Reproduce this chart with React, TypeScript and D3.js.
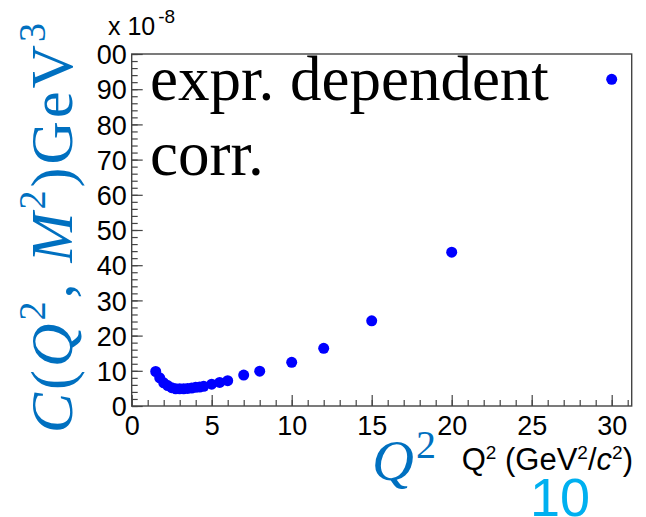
import { useEffect, useRef } from 'react';
import * as d3 from 'd3';

// Q^2 values (GeV^2/c^2) and correction values (x 1e-8)
const q2Values = [1.5, 1.75, 2, 2.25, 2.5, 2.75, 3, 3.25, 3.5, 3.75, 4, 4.25, 4.5, 5, 5.5, 6, 7, 8, 10, 12, 15, 20, 30];
const corrValues = [9.8, 8.0, 6.6, 5.8, 5.2, 4.9, 4.9, 4.9, 5.0, 5.1, 5.3, 5.4, 5.6, 6.2, 6.7, 7.2, 8.8, 9.9, 12.4, 16.4, 24.2, 43.7, 92.8];

const xMajorTicks = [0, 5, 10, 15, 20, 25, 30];
const xMinorTicks = d3.range(0, 32, 1);
const yMajorTicks = [0, 10, 20, 30, 40, 50, 60, 70, 80, 90, 100];
const yMinorTicks = d3.range(0, 101, 2);

const W = 646;
const H = 517;

export default function App() {
  const svgRef = useRef<SVGSVGElement>(null);

  useEffect(() => {
    const svg = d3.select(svgRef.current);
    svg.selectAll('*').remove();

    const frame = { left: 131.7, right: 631.7, top: 54, bottom: 406 };

    const x = d3.scaleLinear().domain([0, 31.25]).range([frame.left, frame.right]);
    const y = d3.scaleLinear().domain([0, 100]).range([frame.bottom, frame.top]);

    svg.append('rect').attr('width', W).attr('height', H).attr('fill', '#fff');

    const axisColor = '#444';
    const sans = '"Liberation Sans", Arial, sans-serif';

    // x ticks (inward)
    const gx = svg.append('g').attr('transform', `translate(0,${frame.bottom})`);
    gx.call(d3.axisBottom(x).tickValues(xMinorTicks).tickSize(-6).tickFormat(() => ''))
      .call(g => g.select('.domain').remove());
    const gx2 = svg.append('g').attr('transform', `translate(0,${frame.bottom})`);
    gx2.call(d3.axisBottom(x).tickValues(xMajorTicks).tickSize(-11).tickPadding(0).tickFormat(d3.format('d')))
      .call(g => g.select('.domain').remove());
    gx2.selectAll('text')
      .attr('y', 29)
      .attr('dy', 0)
      .style('font-family', sans)
      .style('font-size', '27px')
      .attr('fill', '#000');

    // y ticks (inward)
    const gy = svg.append('g').attr('transform', `translate(${frame.left},0)`);
    gy.call(d3.axisLeft(y).tickValues(yMinorTicks).tickSize(-6).tickFormat(() => ''))
      .call(g => g.select('.domain').remove());
    const gy2 = svg.append('g').attr('transform', `translate(${frame.left},0)`);
    gy2.call(d3.axisLeft(y).tickValues(yMajorTicks).tickSize(-11).tickFormat(d3.format('d')))
      .call(g => g.select('.domain').remove());
    gy2.selectAll('text')
      .attr('x', -5)
      .attr('dy', '0.36em')
      .style('font-family', sans)
      .style('font-size', '27px')
      .attr('fill', '#000');
    svg.selectAll('.tick line').attr('stroke', axisColor).attr('stroke-width', 1.2);

    // frame
    svg.append('rect')
      .attr('x', frame.left)
      .attr('y', frame.top)
      .attr('width', frame.right - frame.left)
      .attr('height', frame.bottom - frame.top)
      .attr('fill', 'none')
      .attr('stroke', axisColor)
      .attr('stroke-width', 1.4);

    // exponent label
    const expo = svg.append('text')
      .attr('x', 108)
      .attr('y', 35)
      .style('font-family', sans)
      .style('font-size', '25px')
      .attr('fill', '#000');
    expo.append('tspan').text('x 10');
    expo.append('tspan').attr('dy', -12).attr('dx', 3).style('font-size', '19px').text('-8');

    // axis title
    const xt = svg.append('text')
      .attr('x', 461.7)
      .attr('y', 470)
      .style('font-family', sans)
      .style('font-size', '31px')
      .attr('fill', '#000');
    xt.append('tspan').text('Q');
    xt.append('tspan').attr('dy', -11).style('font-size', '19px').text('2');
    xt.append('tspan').attr('dy', 11).text(' (GeV');
    xt.append('tspan').attr('dy', -11).style('font-size', '19px').text('2');
    xt.append('tspan').attr('dy', 11).text('/');
    xt.append('tspan').style('font-style', 'italic').text('c');
    xt.append('tspan').attr('dy', -11).style('font-size', '19px').text('2');
    xt.append('tspan').attr('dy', 11).text(')');

    // data points
    const pts = q2Values.map((q, i) => ({ q, c: corrValues[i] }));
    svg.append('g')
      .selectAll('circle')
      .data(pts)
      .enter().append('circle')
      .attr('cx', d => x(d.q))
      .attr('cy', d => y(d.c))
      .attr('r', 5.5)
      .attr('fill', '#0000ff');

    // in-pad label
    const serif = '"Liberation Serif", "Times New Roman", serif';
    svg.append('text')
      .attr('x', 150)
      .attr('y', 100)
      .style('font-family', serif)
      .style('font-size', '63px')
      .attr('fill', '#000')
      .text('expr. dependent');
    svg.append('text')
      .attr('x', 150)
      .attr('y', 175)
      .style('font-family', serif)
      .style('font-size', '63px')
      .attr('fill', '#000')
      .text('corr.');

    // pasted y title (white box covers the leading "1" of 100)
    const blue = '#0070c0';
    svg.append('rect').attr('x', 0).attr('y', 40).attr('width', 97).attr('height', 405).attr('fill', '#fff');
    const yt = svg.append('text')
      .attr('transform', 'translate(72,433) rotate(-90)')
      .attr('textLength', 410)
      .attr('lengthAdjust', 'spacing')
      .style('font-family', serif)
      .style('font-size', '60px')
      .attr('fill', blue);
    yt.append('tspan').style('font-style', 'italic').text('C');
    yt.append('tspan').text('(');
    yt.append('tspan').style('font-style', 'italic').text('Q');
    yt.append('tspan').attr('dy', -27).style('font-size', '38px').text('2');
    yt.append('tspan').attr('dy', 27).text(', ');
    yt.append('tspan').style('font-style', 'italic').text('M');
    yt.append('tspan').attr('dy', -27).style('font-size', '38px').text('2');
    yt.append('tspan').attr('dy', 27).text(')GeV');
    yt.append('tspan').attr('dy', -27).style('font-size', '38px').text('3');

    // pasted x title
    const qt = svg.append('text')
      .attr('x', 372)
      .attr('y', 480)
      .style('font-family', serif)
      .style('font-size', '58px')
      .attr('fill', blue);
    qt.append('tspan').style('font-style', 'italic').text('Q');
    qt.append('tspan').attr('dy', -22).attr('dx', 2).style('font-size', '40px').text('2');

    svg.append('text')
      .attr('x', 530)
      .attr('y', 516)
      .style('font-family', sans)
      .style('font-size', '54px')
      .attr('fill', '#00b0f0')
      .text('10');
  }, []);

  return (
    <div style={{ position: 'fixed', left: 0, top: 0, width: W, height: H }}>
      <svg ref={svgRef} width={W} height={H}></svg>
    </div>
  );
}
